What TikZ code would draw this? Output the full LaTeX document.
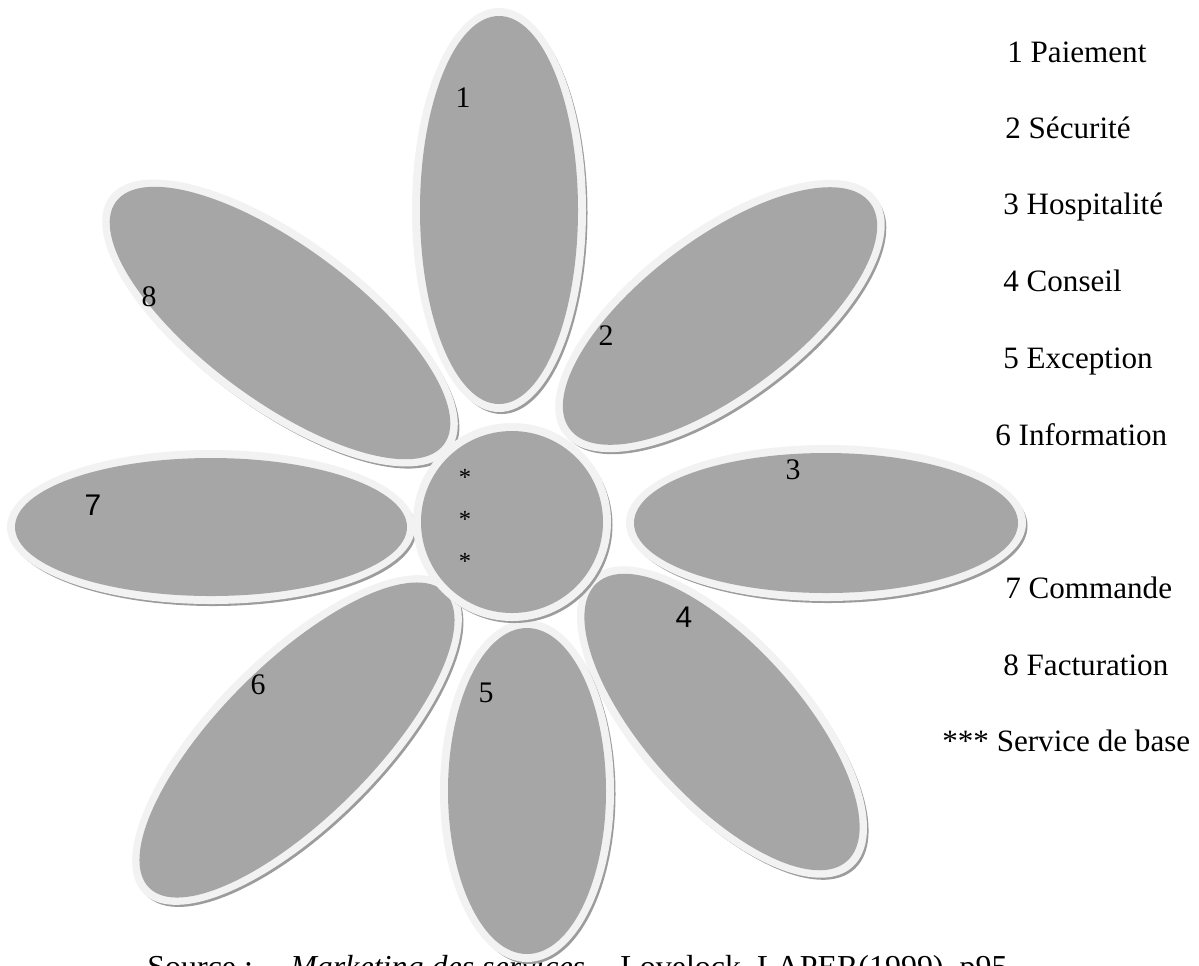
\documentclass[tikz,border=0pt]{standalone}
\usepackage{fontspec}
\setmainfont{Liberation Serif}
\newfontfamily\numsans{Liberation Sans}

\definecolor{coregray}{HTML}{A6A6A6}
\definecolor{ringgray}{HTML}{F2F2F2}
\definecolor{shadegray}{HTML}{9C9C9C}

\tikzset{
  legend/.style={anchor=base west, inner sep=0pt, font=\fontsize{17.7}{20}\selectfont},
  caption/.style={anchor=base west, inner sep=0pt, font=\fontsize{18.2}{20}\selectfont},
  petalnum/.style={inner sep=0pt, font=\fontsize{17}{20}\selectfont},
  asterisk/.style={anchor=base, inner sep=0pt, font=\fontsize{14}{16}\selectfont},
}

% petal: centre x, centre y, long radius, short radius, tilt
\newcommand{\flowerpetal}[5]{%
  \fill[shadegray, rotate around={#5:(#1+2.5,#2+3)}] (#1+2.5,#2+3) ellipse [x radius=#3-1, y radius=#4-1];
  \fill[ringgray, rotate around={#5:(#1,#2)}] (#1,#2) ellipse [x radius=#3, y radius=#4];
  \fill[coregray, rotate around={#5:(#1,#2)}] (#1,#2) ellipse [x radius=#3-8, y radius=#4-8];
}

\begin{document}
\begin{tikzpicture}[x=0.02cm, y=-0.02cm]
\useasboundingbox (0,0) rectangle (1199,965);
\fill[white] (0,0) rectangle (1199,965);

% source line along the lower edge, partly hidden by the lower petal
\node[caption] (src1) at (147,977) {Source :};
\node[caption] (src2) at (290,977) {\itshape Marketing des services,};
\node[caption] (src3) at (620,977) {Lovelock, LAPER(1999), p95};

% petals
\flowerpetal{826}{523}{200}{78}{0}
\flowerpetal{720}{316}{196}{85}{37}
\flowerpetal{722}{722}{195}{85}{-48}
\flowerpetal{499}{210}{87}{202}{0}
\flowerpetal{527}{791}{87}{171}{0}
\flowerpetal{211}{527}{204}{77}{0}
\flowerpetal{280}{323}{212}{85}{-36.5}
\flowerpetal{297}{740}{217}{85}{45}

% heart of the flower
\fill[shadegray] (514.5,525) circle [radius=98];
\fill[ringgray] (512,522) circle [radius=99];
\fill[coregray] (512,522) circle [radius=91];

% petal numbers
\node[petalnum] (n1) at (463,98) {1};
\node[petalnum] (n2) at (606,336) {2};
\node[petalnum] (n3) at (793,470) {3};
\node[petalnum] (n4) at (684,617) {\numsans 4};
\node[petalnum] (n5) at (486,693) {5};
\node[petalnum] (n6) at (258,685) {6};
\node[petalnum] (n7) at (93,505) {\numsans 7};
\node[petalnum] (n8) at (149,297) {8};

\node[asterisk] (s1) at (465,485) {*};
\node[asterisk] (s2) at (465,527) {*};
\node[asterisk] (s3) at (465,569) {*};

% legend
\node[legend] (l1) at (1007,62) {1 Paiement};
\node[legend] (l2) at (1005,138) {2 Sécurité};
\node[legend] (l3) at (1003,214) {3 Hospitalité};
\node[legend] (l4) at (1003,291) {4 Conseil};
\node[legend] (l5) at (1003,368) {5 Exception};
\node[legend] (l6) at (995,445) {6 Information};
\node[legend] (l7) at (1005,598) {7 Commande};
\node[legend] (l8) at (1003,675) {8 Facturation};
\node[legend] (l9) at (942,751) {*** Service de base};
\end{tikzpicture}
\end{document}
